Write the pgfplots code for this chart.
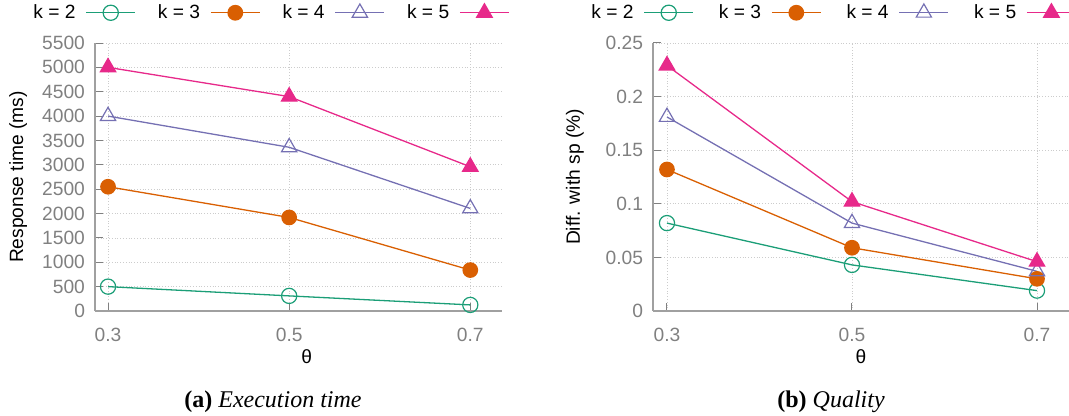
\documentclass[border=0pt]{standalone}
\usepackage{pgfplots}
\pgfplotsset{compat=1.18}
\usepackage{fontspec}
\setmainfont{Liberation Sans}
\newfontfamily\timesfont{Liberation Serif}
\definecolor{cA}{HTML}{1B9E77}
\definecolor{cB}{HTML}{D95F02}
\definecolor{cC}{HTML}{7570B3}
\definecolor{cD}{HTML}{E7298A}
\definecolor{tickgray}{RGB}{128,128,128}
\definecolor{axgray}{RGB}{160,160,160}
\pgfplotsset{
  myaxis/.style={
    scale only axis,
    axis lines*=left,
    axis line style={axgray, line width=0.8pt},
    tick style={tickgray, line width=0.5pt},
    tick align=inside,
    major tick length=4pt,
    grid=major,
    grid style={densely dotted, color=black!20, line width=0.4pt},
    ticklabel style={color=tickgray, font=\fontsize{9.6}{11}\selectfont},
    xticklabel style={yshift=-5pt},
    yticklabel style={xshift=-1.5pt},
    /pgf/number format/assume math mode=true,
    label style={font=\fontsize{9.6}{11}\selectfont},
    xtick={0.3,0.5,0.7},
    xticklabels={0.3,0.5,0.7},
    xlabel={θ},
    legend plot pos=right,
    legend columns=4,
    legend cell align=left,
    legend style={draw=none, fill=none, font=\fontsize{9.6}{11}\selectfont,
      nodes={inner sep=0pt}, anchor=west,
      /tikz/every odd column/.append style={column sep=5pt},
      /tikz/every even column/.append style={column sep=11pt}},
    legend image code/.code={
      \draw[mark repeat=2,mark phase=2,#1,line width=0.7pt] plot coordinates {(0pt,0pt) (12.25pt,0pt) (24.5pt,0pt)};
    },
    every axis plot/.append style={line width=0.65pt},
  },
  s2/.style={color=cA, mark=o, mark size=3.8pt, mark options={line width=0.6pt}},
  s3/.style={color=cB, mark=*, mark size=3.6pt, mark options={fill=cB}},
  s4/.style={color=cC, mark=triangle, mark size=4.4pt, mark options={line width=0.6pt}},
  s5/.style={color=cD, mark=triangle*, mark size=4.4pt, mark options={fill=cD}},
}
\begin{document}
\begin{tikzpicture}
\useasboundingbox (0,0) rectangle (534.5pt,208pt);
\begin{axis}[myaxis,
  at={(47.5pt,52.5pt)}, anchor=south west,
  width=203.5pt, height=134pt,
  xmin=0.2856, xmax=0.735,
  ymin=0, ymax=5500,
  ytick={0,500,1000,1500,2000,2500,3000,3500,4000,4500,5000,5500},
  yticklabels={0,500,1000,1500,2000,2500,3000,3500,4000,4500,5000,5500},
  ylabel={Response time (ms)},
  ylabel style={at={(axis description cs:-0.189,0.5)}, anchor=center},
  xlabel style={at={(axis description cs:0.52,-0.172)}, anchor=center},
  legend style={at={(axis description cs:-0.1671,1.1135)}},
]
\addplot[s2] coordinates {(0.3,500) (0.5,310) (0.7,125)};
\addlegendentry{k = 2}
\addplot[s3] coordinates {(0.3,2550) (0.5,1920) (0.7,840)};
\addlegendentry{k = 3}
\addplot[s4] coordinates {(0.3,4000) (0.5,3360) (0.7,2105)};
\addlegendentry{k = 4}
\addplot[s5] coordinates {(0.3,5000) (0.5,4400) (0.7,2960)};
\addlegendentry{k = 5}
\end{axis}
\begin{axis}[myaxis,
  at={(326.5pt,52.5pt)}, anchor=south west,
  width=208pt, height=134pt,
  xmin=0.2849, xmax=0.7346,
  ymin=0, ymax=0.25,
  ytick={0,0.05,0.1,0.15,0.2,0.25},
  yticklabels={0,0.05,0.1,0.15,0.2,0.25},
  ylabel={Diff. with sp (\%)},
  ylabel style={at={(axis description cs:-0.1875,0.5)}, anchor=center},
  xlabel style={at={(axis description cs:0.5,-0.172)}, anchor=center},
  legend style={at={(axis description cs:-0.1635,1.1135)},
    /tikz/every even column/.append style={column sep=12.5pt}},
]
\addplot[s2] coordinates {(0.3,0.082) (0.5,0.043) (0.7,0.019)};
\addlegendentry{k = 2}
\addplot[s3] coordinates {(0.3,0.132) (0.5,0.059) (0.7,0.030)};
\addlegendentry{k = 3}
\addplot[s4] coordinates {(0.3,0.181) (0.5,0.082) (0.7,0.037)};
\addlegendentry{k = 4}
\addplot[s5] coordinates {(0.3,0.229) (0.5,0.102) (0.7,0.046)};
\addlegendentry{k = 5}
\end{axis}
\node[font=\timesfont\fontsize{12}{14}\selectfont, anchor=center] at (136.5pt,7pt) {\textbf{(a)} \textit{Execution time}};
\node[font=\timesfont\fontsize{12}{14}\selectfont, anchor=center] at (415.5pt,7pt) {\textbf{(b)} \textit{Quality}};
\end{tikzpicture}
\end{document}
